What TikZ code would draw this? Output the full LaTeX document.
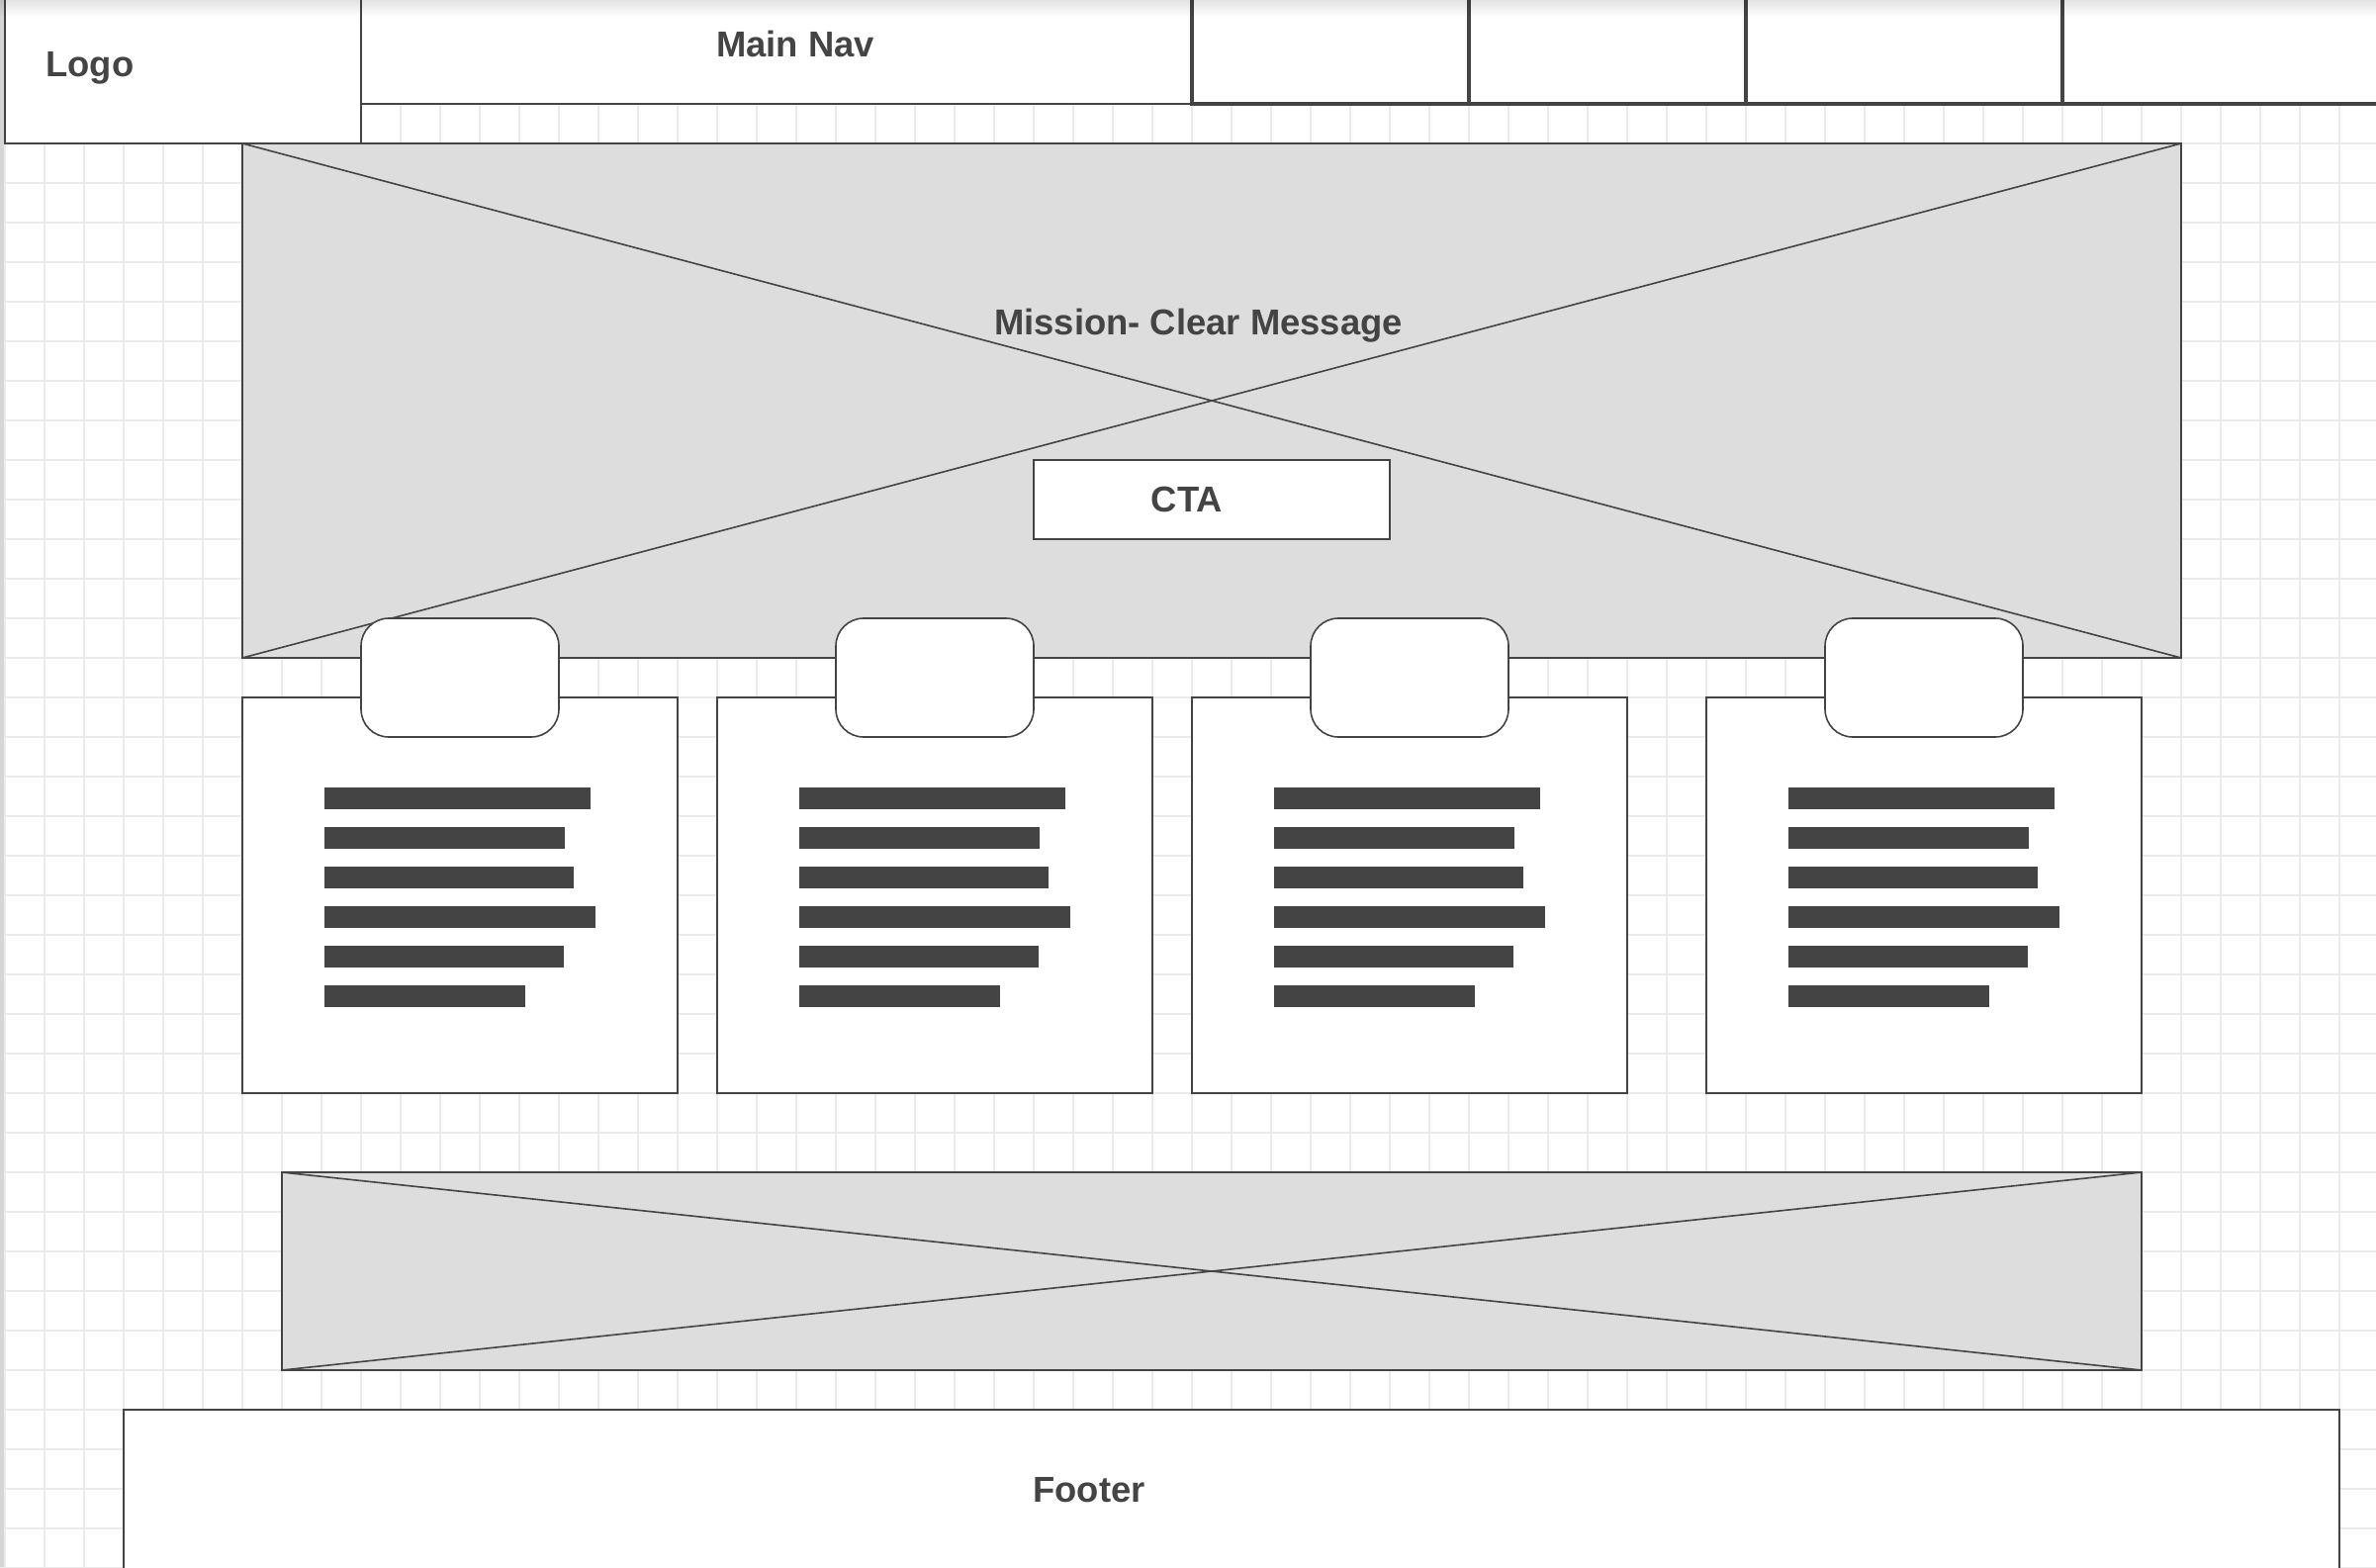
\documentclass[tikz,border=0pt]{standalone}
\usepackage{fontspec}
\setmainfont{Liberation Sans}
\definecolor{ink}{HTML}{444444}
\definecolor{gridc}{HTML}{EBEBEB}
\definecolor{ph}{HTML}{DDDDDD}
\definecolor{edge}{HTML}{D6D6D6}
\begin{document}
\begin{tikzpicture}[x=0.5pt,y=-0.5pt,
  frame/.style={draw=ink,line width=0.8pt,fill=white},
  thickframe/.style={draw=ink,line width=2pt,fill=white},
  placeholder/.style={draw=ink,line width=0.8pt,fill=ph},
  cross/.style={draw=ink,line width=0.8pt},
  label/.style={text=ink,font=\fontsize{18.2}{20}\selectfont\bfseries,inner sep=0pt},
  bar/.style={fill=ink},
  tab/.style={frame,rounded corners=14pt}]
\useasboundingbox (0,0) rectangle (2402,1584);
\clip (0,0) rectangle (2402,1584);
\fill[white] (0,0) rectangle (2402,1584);
% grid
\foreach \gx in {5,45,...,2405} \draw[gridc,line width=0.7pt] (\gx,0) -- (\gx,1584);
\foreach \gy in {25,65,...,1585} \draw[gridc,line width=0.7pt] (0,\gy) -- (2402,\gy);
\fill[edge] (0,0) rectangle (4,1584);
% header
\draw[frame] (5,-20) rectangle (365,145);
\draw[frame] (365,-20) rectangle (1205,105);
\draw[thickframe] (1205,-20) rectangle (1485,105);
\draw[thickframe] (1485,-20) rectangle (1765,105);
\draw[thickframe] (1765,-20) rectangle (2085,105);
\draw[thickframe] (2085,-20) rectangle (2450,105);
\node[label,anchor=base west] (logo) at (46,78) {Logo};
\node[label,anchor=base] (mainnav) at (804,58) {Main Nav};
% hero
\draw[placeholder] (245,145) rectangle (2205,665);
\draw[cross] (245,145) -- (2205,665);
\draw[cross] (245,665) -- (2205,145);
\node[label,anchor=base] (mission) at (1211.5,338) {Mission- Clear Message};
\draw[frame] (1045,465) rectangle (1405,545);
\node[label,anchor=base] (cta) at (1200,517) {CTA};
% cards
\foreach \cx in {245,725,1205,1725}{
  \draw[frame] (\cx,705) rectangle ({\cx+440},1105);
  \draw[tab] ({\cx+120},625) rectangle ({\cx+320},745);
  \foreach \w [count=\i from 0] in {269,243,252,274,242,203}
    \fill[bar] ({\cx+83},{796+40*\i}) rectangle ++(\w,22);
}
% banner
\draw[placeholder] (285,1185) rectangle (2165,1385);
\draw[cross] (285,1185) -- (2165,1385);
\draw[cross] (285,1385) -- (2165,1185);
% footer
\draw[frame] (125,1425) rectangle (2365,1620);
\node[label,anchor=base] (footer) at (1101,1518) {Footer};
% top shadow
\foreach \k in {0,...,16}{
  \pgfmathsetmacro\op{0.11*(1-\k/17)}
  \fill[black,opacity=\op] (0,\k) rectangle (2402,\k+1);
}
\end{tikzpicture}
\end{document}
